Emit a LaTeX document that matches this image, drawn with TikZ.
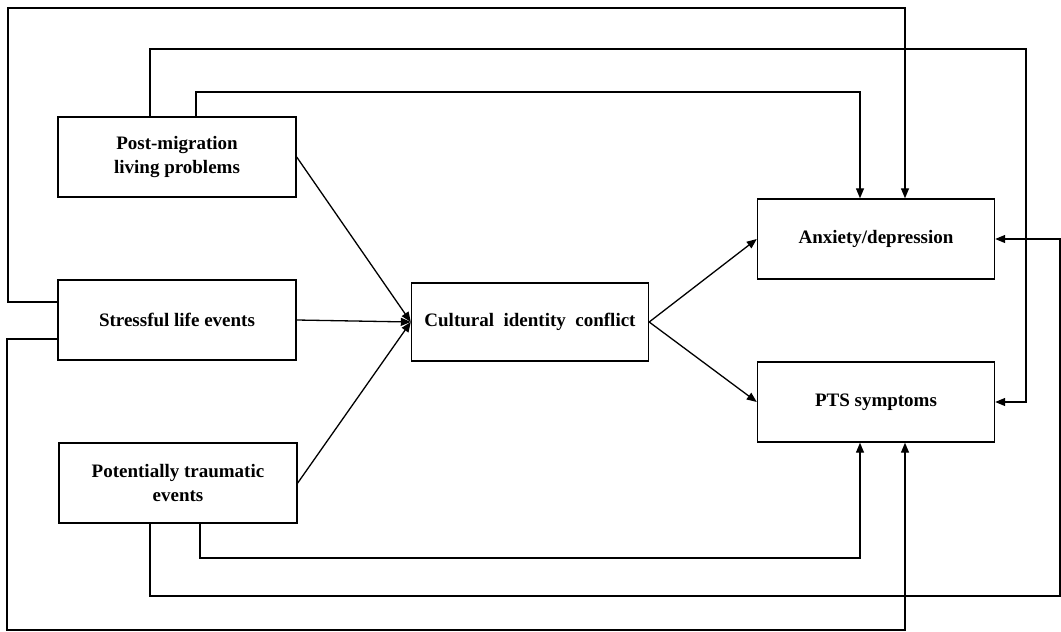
\documentclass[tikz,border=0pt]{standalone}
\usepackage{fontspec}
\setmainfont{Liberation Serif}
\usetikzlibrary{arrows.meta}
\begin{document}
\begin{tikzpicture}[x=1pt,y=-1pt,
  box/.style={draw,line width=1.4pt,minimum width=238pt,minimum height=80pt,inner sep=0pt,
    align=center,font=\fontsize{19}{24}\selectfont\bfseries},
  conn/.style={line width=1.3pt},
  arr/.style={conn,-{Triangle[length=10pt,width=8pt]}}]
\useasboundingbox (0,0) rectangle (1061,632);
\node[box] (post) at (177,157) {Post-migration\\ living problems};
\node[box] (stress) at (177,320) {Stressful life events};
\node[box] (pot) at (178,483) {Potentially traumatic\\ events};
\node[box,minimum width=237pt,minimum height=78pt] (cult) at (530,322) {Cultural\ \ identity\ \ conflict};
\node[box,minimum width=237pt] (anx) at (876,239) {Anxiety/depression};
\node[box,minimum width=237pt] (pts) at (876,402) {PTS symptoms};
% mediation paths
\draw[arr] (post.east) -- (cult.west);
\draw[arr] (stress.east) -- (cult.west);
\draw[arr] (pot.east) -- (cult.west);
\draw[arr] (cult.east) -- (anx.west);
\draw[arr] (cult.east) -- (pts.west);
% direct paths
\draw[arr] ([yshift=18pt]stress.west) -| (8,8) -| ([xshift=29pt]anx.north);
\draw[arr] ([xshift=-27pt]post.north) |- (1026,49) |- (pts.east);
\draw[arr] ([xshift=19pt]post.north) |- (860,92) -- ([xshift=-16pt]anx.north);
\draw[arr] ([yshift=-19pt]stress.west) -| (7,630) -| ([xshift=29pt]pts.south);
\draw[arr] ([xshift=-28pt]pot.south) |- (1060,596) |- (anx.east);
\draw[arr] ([xshift=22pt]pot.south) |- (860,558) -- ([xshift=-16pt]pts.south);
\end{tikzpicture}
\end{document}
